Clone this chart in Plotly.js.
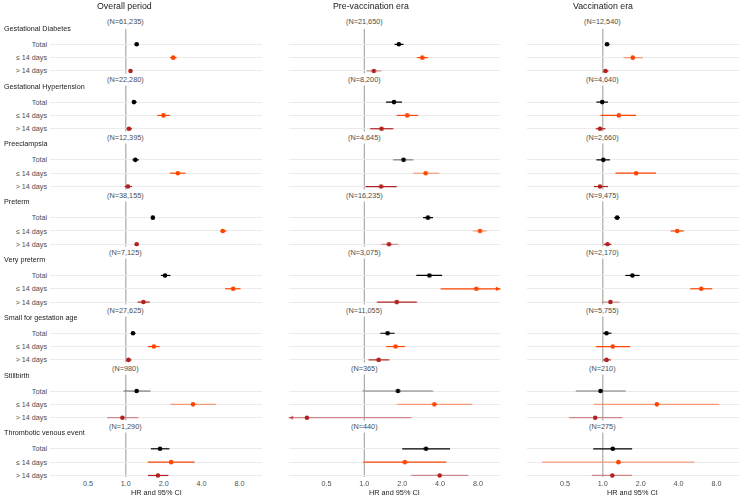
<!DOCTYPE html>
<html>
<head>
<meta charset="utf-8">
<script src="https://cdn.plot.ly/plotly-3.0.1.min.js"></script>
<style>html,body{margin:0;padding:0;background:#fff;}#chart{width:740px;height:497px;}</style>
</head>
<body>
<div id="chart"></div>
<script>
// ---------------- DATA ----------------
const groups = ["Gestational Diabetes","Gestational Hypertension","Preeclampsia","Preterm","Very preterm","Small for gestation age","Stillbirth","Thrombotic venous event"];
const rowLabels = ["Total","≤ 14 days","> 14 days"];
const periods = ["Overall period","Pre-vaccination era","Vaccination era"];
const tickValues = [0.5, 1, 2, 4, 8];
const tickLabels = ["0.5","1.0","2.0","4.0","8.0"];
const xTitle = "HR and 95% CI";

const nOverall = ["61,235","22,280","12,395","38,155","7,125","27,625","980","1,290"];
const nPre     = ["21,650","8,200","4,645","16,235","3,075","11,055","365","440"];
const nVacc    = ["12,540","4,640","2,660","9,475","2,170","5,755","210","275"];

const overallTotalHR = [1.22,1.16,1.19,1.64,2.05,1.14,1.22,1.87];
const overallTotalLo = [1.18,1.12,1.13,1.60,1.90,1.10,0.96,1.58];
const overallTotalHi = [1.26,1.22,1.27,1.68,2.26,1.19,1.57,2.22];
const overallEarlyHR = [2.38,1.99,2.59,5.89,7.12,1.67,3.42,2.29];
const overallEarlyLo = [2.24,1.78,2.24,5.60,6.14,1.50,2.26,1.49];
const overallEarlyHi = [2.53,2.24,2.98,6.30,8.15,1.86,5.19,3.51];
const overallLateHR  = [1.09,1.06,1.04,1.22,1.38,1.05,0.94,1.80];
const overallLateLo  = [1.06,1.01,0.98,1.18,1.24,1.00,0.71,1.50];
const overallLateHi  = [1.12,1.12,1.12,1.26,1.55,1.11,1.26,2.18];

const preTotalHR = [1.88,1.72,2.05,3.20,3.29,1.53,1.85,3.09];
const preTotalLo = [1.74,1.49,1.69,2.93,2.59,1.34,0.97,2.00];
const preTotalHi = [2.05,1.99,2.45,3.51,4.15,1.74,3.52,4.80];
const preEarlyHR = [2.89,2.19,3.07,8.29,7.75,1.77,3.60,2.10];
const preEarlyLo = [2.62,1.81,2.44,7.30,4.04,1.49,1.82,0.98];
const preEarlyHi = [3.21,2.67,3.93,9.40,15.0,2.10,7.20,4.47];
const preLateHR  = [1.19,1.37,1.36,1.57,1.81,1.30,0.35,3.97];
const preLateLo  = [1.04,1.11,1.02,1.36,1.26,1.08,0.20,2.35];
const preLateHi  = [1.36,1.70,1.81,1.85,2.62,1.58,2.36,6.70];

const vaccTotalHR = [1.08,0.99,1.01,1.30,1.72,1.07,0.96,1.20];
const vaccTotalLo = [1.04,0.89,0.89,1.23,1.51,1.00,0.61,0.84];
const vaccTotalHi = [1.13,1.10,1.14,1.37,1.96,1.17,1.52,1.71];
const vaccEarlyHR = [1.73,1.34,1.84,3.90,6.05,1.20,2.69,1.33];
const vaccEarlyLo = [1.46,0.96,1.26,3.46,4.94,0.88,0.85,0.33];
const vaccEarlyHi = [2.08,1.84,2.65,4.40,7.40,1.65,8.40,5.35];
const vaccLateHR  = [1.05,0.95,0.95,1.09,1.15,1.07,0.87,1.19];
const vaccLateLo  = [1.00,0.88,0.85,1.01,0.98,1.00,0.54,0.82];
const vaccLateHi  = [1.11,1.05,1.10,1.17,1.36,1.16,1.43,1.71];

// ---------------- STYLE / LAYOUT ----------------
const FONT = "Liberation Sans, Arial, Helvetica, sans-serif";
const catColors = ["#000000", "#FF4500", "#B22222"];
// lighter CI segments, indexed [panel][category] -> list of group indices
const lightCI = [
  [[6],[6],[6]],
  [[2,6],[2,3,6],[0,3,6,7]],
  [[6],[0,6,7],[4,6,7]]
];
const GROUP_STEP = 4.335, ROW_STEP = 1;
const yTop = -1.973, yBottom = 32.46;
const xMin = 0.25, xMax = 12.07;
const panelDomains = [[0, 0.3077],[0.3462, 0.6538],[0.6923, 1]];
const xNames = ["x","x2","x3"];
const PLOT_H = 497 - 18 - 20;

const panelData = [
  {n: nOverall, hr:[overallTotalHR, overallEarlyHR, overallLateHR], lo:[overallTotalLo, overallEarlyLo, overallLateLo], hi:[overallTotalHi, overallEarlyHi, overallLateHi]},
  {n: nPre, hr:[preTotalHR, preEarlyHR, preLateHR], lo:[preTotalLo, preEarlyLo, preLateLo], hi:[preTotalHi, preEarlyHi, preLateHi]},
  {n: nVacc, hr:[vaccTotalHR, vaccEarlyHR, vaccLateHR], lo:[vaccTotalLo, vaccEarlyLo, vaccLateLo], hi:[vaccTotalHi, vaccEarlyHi, vaccLateHi]}
];

function rowY(g, r){ return g*GROUP_STEP + r*ROW_STEP; }

const traces = [];
const annotations = [];
const shapes = [];

panelData.forEach((pd, p) => {
  const xa = xNames[p];
  for (let c = 0; c < 3; c++) {
    const solid = {x:[], y:[]}, light = {x:[], y:[]};
    const px = [], py = [];
    groups.forEach((gName, g) => {
      const y = rowY(g, c);
      const tgt = lightCI[p][c].includes(g) ? light : solid;
      tgt.x.push(pd.lo[c][g], pd.hi[c][g], null);
      tgt.y.push(y, y, null);
      px.push(pd.hr[c][g]); py.push(y);
      if (pd.hi[c][g] > xMax) {
        annotations.push({xref:xa, yref:"y", x:Math.log10(xMax)-0.003, y:y, axref:xa, ayref:"y",
          ax:Math.log10(xMax)-0.05, ay:y, showarrow:true, arrowhead:2, arrowsize:0.7, arrowwidth:1.2,
          arrowcolor:catColors[c], text:""});
      }
      if (pd.lo[c][g] < xMin) {
        annotations.push({xref:xa, yref:"y", x:Math.log10(xMin)+0.003, y:y, axref:xa, ayref:"y",
          ax:Math.log10(xMin)+0.05, ay:y, showarrow:true, arrowhead:2, arrowsize:0.7, arrowwidth:1.2,
          arrowcolor:catColors[c], opacity:0.6, text:""});
      }
    });
    traces.push({type:"scatter", mode:"lines", x:solid.x, y:solid.y, xaxis:xa, yaxis:"y",
      line:{color:catColors[c], width:1.2}, hoverinfo:"skip", showlegend:false});
    traces.push({type:"scatter", mode:"lines", x:light.x, y:light.y, xaxis:xa, yaxis:"y",
      line:{color:catColors[c], width:1.2}, opacity:0.5, hoverinfo:"skip", showlegend:false});
    traces.push({type:"scatter", mode:"markers", x:px, y:py, xaxis:xa, yaxis:"y",
      marker:{color:catColors[c], size:4.6, symbol:"circle"}, cliponaxis:false, showlegend:false,
      name:rowLabels[c]});
  }
  shapes.push({type:"line", xref:xa, yref:"y", x0:1, x1:1, y0:-1.15, y1:yBottom, layer:"below",
    line:{color:"#a3a3a3", width:1.1}});
  groups.forEach((gName, g) => {
    annotations.push({xref:xa, yref:"y", x:0, y:rowY(g,0)-1.69, text:"(N=" + pd.n[g] + ")",
      showarrow:false, font:{family:FONT, size:7.3, color:"#4d4d4d"}, bgcolor:"#ffffff", borderpad:1,
      xanchor:"center", yanchor:"middle"});
  });
  const dom = panelDomains[p];
  annotations.push({xref:"paper", yref:"paper", x:(dom[0]+dom[1])/2, y:-(492 - 477)/PLOT_H, text:xTitle,
    showarrow:false, font:{family:FONT, size:7.3, color:"#1a1a1a"}, xanchor:"center", yanchor:"middle"});
});

const titleCenters = [124, 371, 603];
periods.forEach((t, p) => {
  annotations.push({xref:"paper", yref:"paper", x:(titleCenters[p]-50)/689, y:1 + (18-5.5)/PLOT_H, text:t,
    showarrow:false, font:{family:FONT, size:8.8, color:"#1a1a1a"}, xanchor:"center", yanchor:"middle"});
});
groups.forEach((gName, g) => {
  annotations.push({xref:"paper", yref:"y", x:(2-50)/689, y:rowY(g,0)-1.2, text:gName,
    showarrow:false, font:{family:FONT, size:7.2, color:"#1a1a1a"}, xanchor:"left", yanchor:"middle"});
});

const tickY = [], tickT = [];
groups.forEach((gName, g) => { for (let r = 0; r < 3; r++) { tickY.push(rowY(g, r)); tickT.push(rowLabels[r]); } });

function xAxisDef(p) {
  return {domain:panelDomains[p], type:"log", range:[Math.log10(xMin), Math.log10(xMax)],
    tickvals:tickValues, ticktext:tickLabels, showgrid:false, zeroline:false, showline:false,
    ticks:"", tickfont:{family:FONT, size:7.2, color:"#4d4d4d"}, anchor:"y", fixedrange:true,
    ticklabelstandoff:1};
}

const layout = {
  width:740, height:497,
  margin:{l:50, r:1, t:18, b:20},
  paper_bgcolor:"#ffffff", plot_bgcolor:"#ffffff",
  font:{family:FONT, color:"#4d4d4d"},
  showlegend:false,
  xaxis:xAxisDef(0), xaxis2:xAxisDef(1), xaxis3:xAxisDef(2),
  yaxis:{range:[yBottom, yTop], tickvals:tickY, ticktext:tickT, showgrid:true, gridcolor:"#ebebeb",
    gridwidth:1, zeroline:false, showline:false, ticks:"", tickfont:{family:FONT, size:7.2, color:"#4d4d4d"},
    anchor:"x", fixedrange:true, ticklabelstandoff:2},
  shapes:shapes,
  annotations:annotations
};

Plotly.newPlot("chart", traces, layout, {displayModeBar:false, staticPlot:true});
</script>
</body>
</html>
